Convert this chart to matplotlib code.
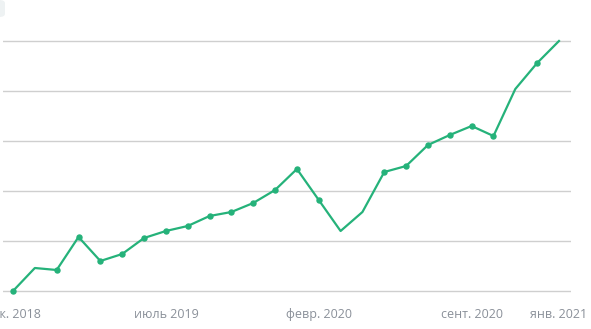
import matplotlib
matplotlib.use("Agg")
import matplotlib.pyplot as plt
from matplotlib.patches import FancyBboxPatch

# Monthly series, Dec 2018 .. Jan 2021
months = list(range(26))
values = [0.0, 4.6, 4.2, 10.8, 6.0, 7.4, 10.6, 12.0, 13.0, 15.0,
          15.8, 17.6, 20.2, 24.4, 18.2, 12.0, 15.8, 23.8, 25.0, 29.2,
          31.2, 33.0, 31.0, 40.4, 45.6, 50.0]
marked = [0, 2, 3, 4, 5, 6, 7, 8, 9, 10, 11, 12, 13, 14, 17, 18, 19,
          20, 21, 22, 24]
tick_pos = [0, 7, 14, 21, 25]
tick_labels = ["дек. 2018", "июль 2019", "февр. 2020", "сент. 2020", "янв. 2021"]
grid_levels = [0, 10, 20, 30, 40, 50]

W, H = 591, 329
fig = plt.figure(figsize=(W / 100, H / 100), dpi=100)
ax = fig.add_axes([3 / W, 1 - 300 / H, (571 - 3) / W, (300 - 30) / H])

green = "#25b27a"
ax.plot(months, values, color=green, lw=1.6, marker="o", ms=3.6,
        markevery=marked, solid_joinstyle="round", clip_on=False, zorder=3)

ax.set_xlim(-0.458, 25.55)
ax.set_ylim(-1.8, 52.2)
ax.set_yticks(grid_levels)
ax.yaxis.grid(True, color="#cfcfcf", lw=1.0)
ax.tick_params(axis="y", left=False, labelleft=False)
ax.set_xticks(tick_pos)
ax.set_xticklabels(tick_labels, fontsize=9, color="#8a9099", family="Open Sans")
ax.tick_params(axis="x", bottom=False, pad=2)
for s in ax.spines.values():
    s.set_visible(False)

# faint panel edge at the top-left corner
fig.patches.append(FancyBboxPatch((-20 / W, 1 - 17 / H), 25 / W, 17 / H,
                                  boxstyle="round,pad=0,rounding_size=0.01",
                                  transform=fig.transFigure, fc="#eef2f3",
                                  ec="none", zorder=0))

fig.savefig("out.png", dpi=100)
